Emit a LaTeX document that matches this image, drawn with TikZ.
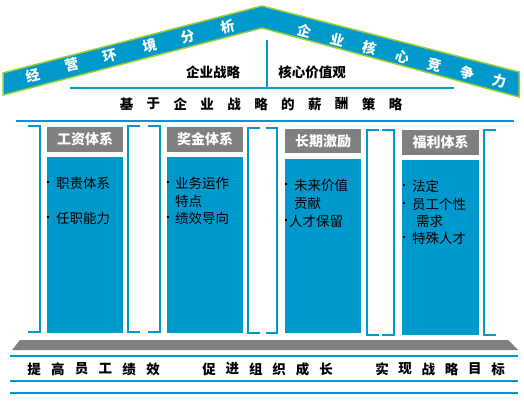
\documentclass[tikz,border=0pt]{standalone}
\usepackage{fontspec}
\newfontfamily\cjk{Noto Sans CJK SC}
\definecolor{skyblue}{HTML}{0099CC}
\definecolor{roofgreen}{HTML}{99CC33}
\definecolor{hdrgray}{HTML}{808080}
\begin{document}
\begin{tikzpicture}[x=1pt,y=-1pt,
  bline/.style={draw=skyblue,line width=2pt},
  brk/.style={draw=skyblue,line width=2pt},
  rooftxt/.style={font=\cjk\bfseries\fontsize{14}{16}\selectfont,text=white,inner sep=0},
  lbl/.style={font=\cjk\bfseries\fontsize{13.5}{16}\selectfont,inner sep=0},
  hdr/.style={fill=hdrgray,font=\cjk\bfseries\fontsize{14}{16}\selectfont,text=white,inner sep=0},
  body/.style={fill=skyblue,inner sep=0},
  item/.style={font=\cjk\fontsize{13.5}{16}\selectfont,inner sep=0,anchor=west},
  bul/.style={fill=black,inner sep=0,minimum size=2.6pt}
]
\useasboundingbox (0,0) rectangle (524,404);
% roof
\filldraw[fill=skyblue,draw=roofgreen,line width=1.5pt,line join=miter]
  (3,73) -- (262,6) -- (519,72) -- (519,97) -- (262,28) -- (3,95) -- cycle;
\foreach \c/\x/\y [count=\i] in {经/33/75,营/72/65,环/110/56,境/150/46,分/188/37,析/228/27}
  \node[rooftxt,rotate=14] (L\i) at (\x,\y) {\c};
\foreach \c/\x/\y [count=\i] in {企/305/31,业/338/40,核/370/48,心/403/57,竞/435/65,争/468/73,力/500/81}
  \node[rooftxt,rotate=-14] (R\i) at (\x,\y) {\c};
% inner labels
\coordinate (vt) at (267,40);
\coordinate (vb) at (267,88);
\coordinate (hl) at (70,88);
\coordinate (hr) at (454,88);
\draw[bline,line width=1.6pt] (vt) -- (vb);
\draw[bline,line width=1.6pt] (hl) -- (hr);
\node[lbl] (strat) at (213,72) {企业战略};
\node[lbl] (core) at (312,72) {核心价值观};
\foreach \c [count=\i from 0] in {基,于,企,业,战,略,的,薪,酬,策,略}
  \node[lbl] (T\i) at ({126.5+26.9*\i},104) {\c};
\coordinate (l1a) at (16,121);
\coordinate (l1b) at (514,121);
\draw[bline] (l1a) -- (l1b);
% brackets
\draw[brk] (28,126) -- (40,126) -- (40,332) -- (28,332);
\draw[brk] (140,126) -- (128,126) -- (128,332) -- (140,332);
\draw[brk] (148,126) -- (160,126) -- (160,332) -- (148,332);
\draw[brk] (260,128) -- (248,128) -- (248,333) -- (260,333);
\draw[brk] (266,128) -- (277,128) -- (277,333) -- (266,333);
\draw[brk] (379,130) -- (367,130) -- (367,335) -- (379,335);
\draw[brk] (382,130) -- (394,130) -- (394,335) -- (382,335);
\draw[brk] (496,130) -- (484,130) -- (484,335) -- (496,335);
% columns
\node[hdr,minimum width=76pt,minimum height=25pt] (h1) at (85,139.5) {工资体系};
\node[body,minimum width=76pt,minimum height=176pt] (c1) at (85,245) {};
\node[hdr,minimum width=76pt,minimum height=25pt] (h2) at (205,139.5) {奖金体系};
\node[body,minimum width=76pt,minimum height=176pt] (c2) at (205,245) {};
\node[hdr,minimum width=76pt,minimum height=24pt] (h3) at (323,141) {长期激励};
\node[body,minimum width=76pt,minimum height=174pt] (c3) at (323,246) {};
\node[hdr,minimum width=77pt,minimum height=25pt] (h4) at (440.5,142.5) {福利体系};
\node[body,minimum width=77pt,minimum height=175pt] (c4) at (440.5,247.5) {};
% bullets and items
\foreach \bx/\tx/\y/\t/\b [count=\i] in {
  48/56/183/职责体系/1, 48/56/218/任职能力/1,
  168/175/183/业务运作/1, 168/175/201/特点/0, 168/175/218/绩效导向/1,
  286/294/185/未来价值/1, 286/294/203/贡献/0, 286/289/221/人才保留/1,
  404/412/186/法定/1, 404/412/204/员工个性/1, 404/416/221/需求/0, 404/412/238/特殊人才/1}
{
  \node[item] (it\i) at (\tx,\y) {\t};
  \ifnum\b=1 \node[bul] (bu\i) at (\bx,\y-1) {}; \fi
}
% base
\fill[hdrgray] (20,340) -- (508,340) -- (518,350) -- (12,350) -- cycle;
\coordinate (b1a) at (10,356); \coordinate (b1b) at (518,356);
\coordinate (b2a) at (10,381); \coordinate (b2b) at (518,381);
\coordinate (b3a) at (10,393); \coordinate (b3b) at (518,393);
\draw[bline] (b1a) -- (b1b);
\draw[bline] (b2a) -- (b2b);
\draw[bline] (b3a) -- (b3b);
\foreach \c [count=\i from 0] in {提,高,员,工,绩,效}
  \node[lbl] (P\i) at ({34+23.8*\i},369) {\c};
\foreach \c [count=\i from 0] in {促,进,组,织,成,长}
  \node[lbl] (Q\i) at ({209+23.4*\i},369) {\c};
\foreach \c [count=\i from 0] in {实,现,战,略,目,标}
  \node[lbl] (S\i) at ({382+23.2*\i},369) {\c};
\end{tikzpicture}
\end{document}
